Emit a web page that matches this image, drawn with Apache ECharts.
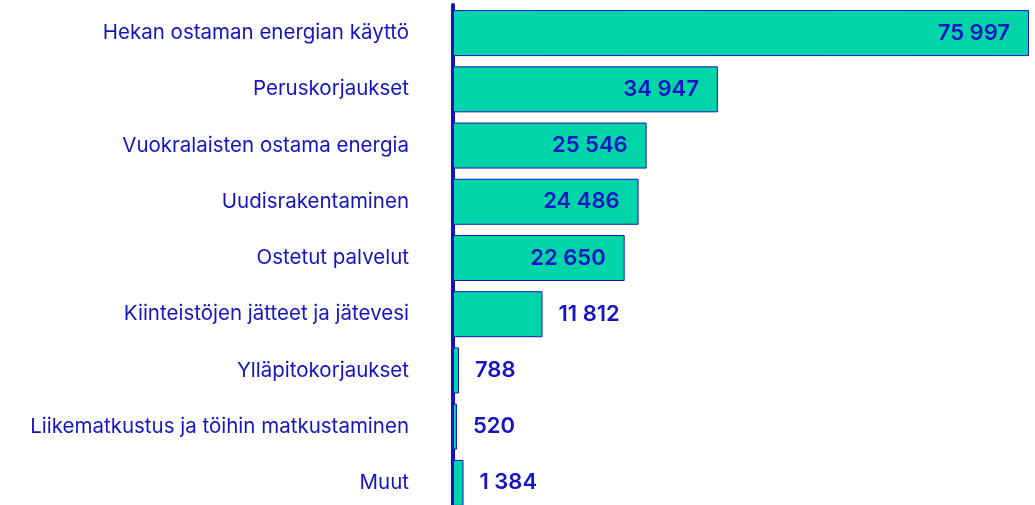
<!DOCTYPE html>
<html>
<head>
<meta charset="utf-8">
<script src="https://cdn.jsdelivr.net/npm/echarts@6/dist/echarts.min.js"></script>
<style>
  html, body { margin: 0; padding: 0; background: #fff; }
  #chart { width: 1035px; height: 505px; }
</style>
</head>
<body>
<div id="chart"></div>
<script>
const categories = [
  "Hekan ostaman energian käyttö",
  "Peruskorjaukset",
  "Vuokralaisten ostama energia",
  "Uudisrakentaminen",
  "Ostetut palvelut",
  "Kiinteistöjen jätteet ja jätevesi",
  "Ylläpitokorjaukset",
  "Liikematkustus ja töihin matkustaminen",
  "Muut"
];
const values = [75997, 34947, 25546, 24486, 22650, 11812, 788, 520, 1384];

const blue = "#1414c4";
const green = "#00d5a9";

function fmt(v) {
  return String(v).replace(/\B(?=(\d{3})+(?!\d))/g, " ");
}

const chart = echarts.init(document.getElementById("chart"));
chart.setOption({
  animation: false,
  grid: {
    left: 453, right: 6, top: 5, height: 506,
    containLabel: false,
    outerBoundsMode: "none"
  },
  xAxis: {
    type: "value",
    min: 0,
    max: 75997,
    show: false
  },
  yAxis: {
    type: "category",
    data: categories,
    inverse: true,
    axisTick: { show: false },
    axisLine: { show: true, lineStyle: { color: blue, width: 4 } },
    axisLabel: {
      margin: 44,
      color: blue,
      fontFamily: "Inter",
      fontSize: 20.5
    }
  },
  series: [
    {
      type: "bar",
      barWidth: 46,
      data: values.map(function (v) {
        return {
          value: v,
          label: {
            position: v > 20000 ? "insideRight" : "right",
            distance: v > 20000 ? 19 : 16
          }
        };
      }),
      itemStyle: { color: green, borderColor: blue, borderWidth: 1 },
      label: {
        show: true,
        color: blue,
        fontFamily: "Inter",
        fontWeight: 600,
        fontSize: 22,
        formatter: function (p) { return fmt(p.value); }
      }
    }
  ]
});
</script>
</body>
</html>
